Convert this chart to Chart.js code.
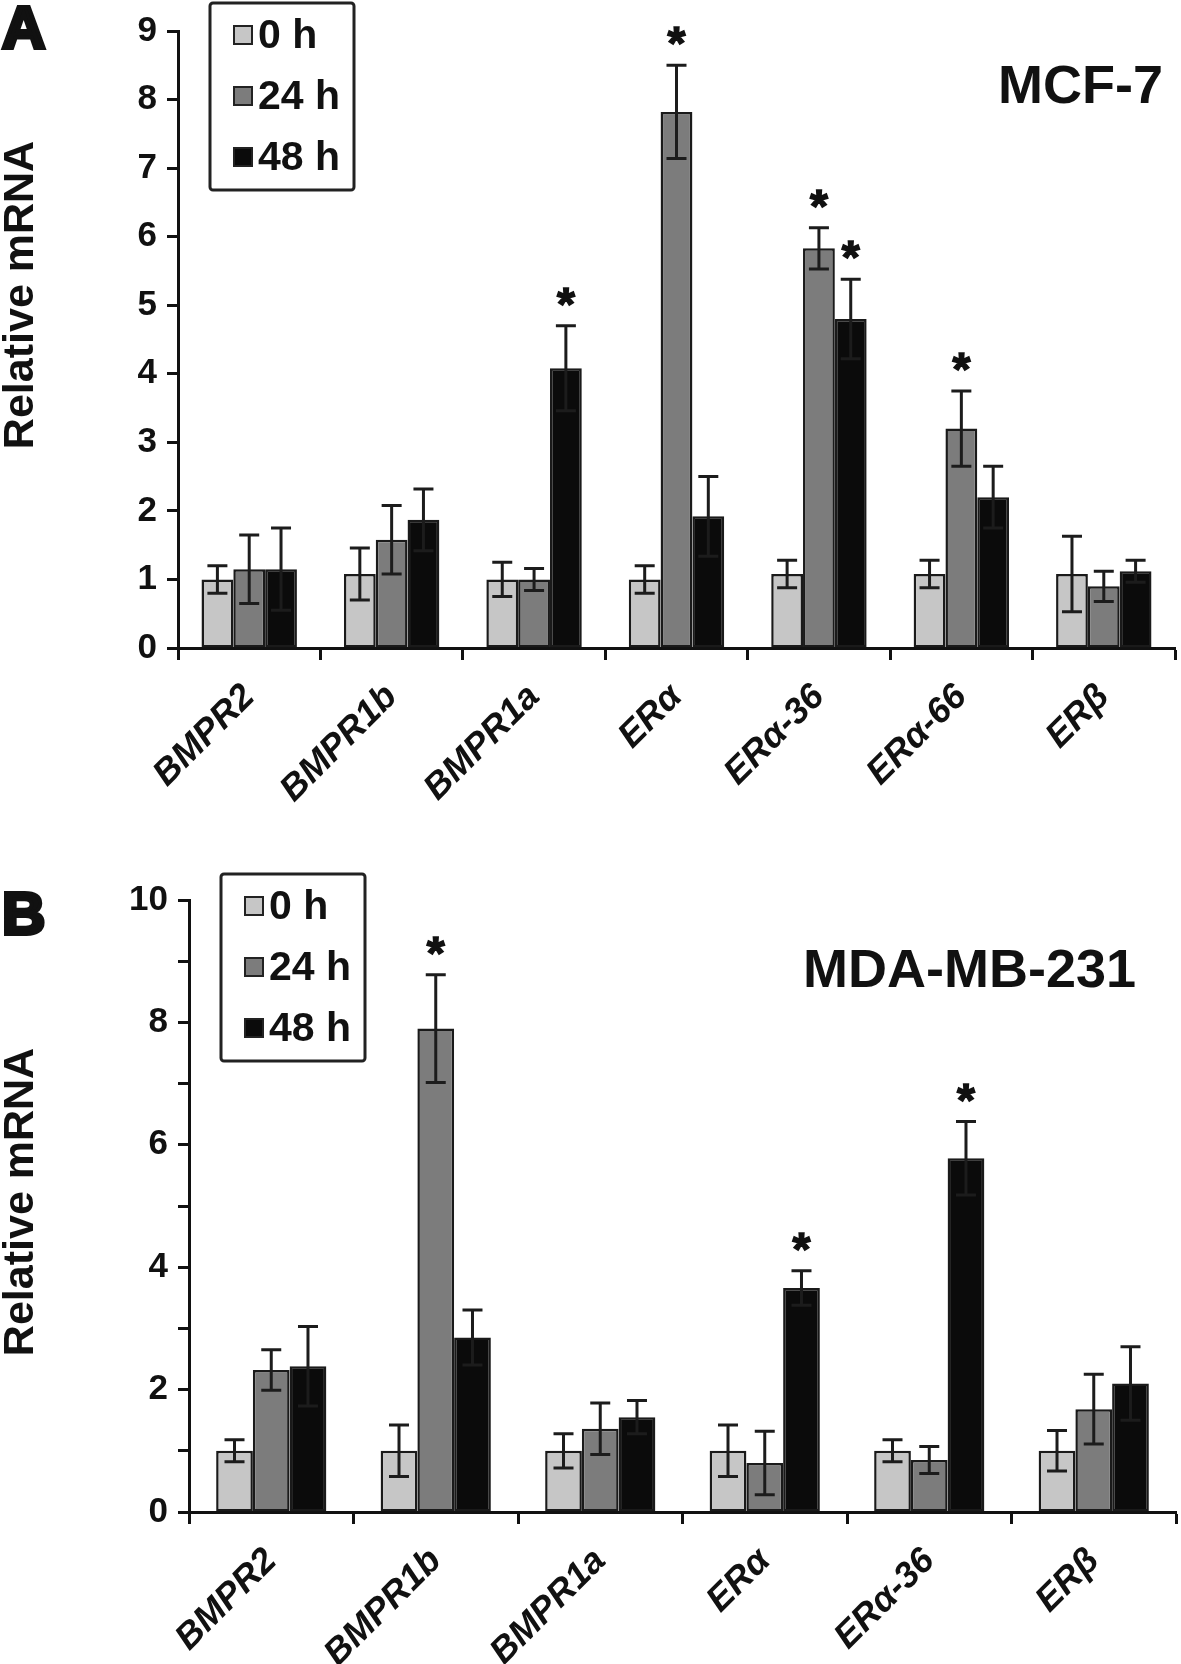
<!DOCTYPE html>
<html>
<head>
<meta charset="utf-8">
<script src="https://cdn.jsdelivr.net/npm/chart.js@4.4.1/dist/chart.umd.min.js"></script>
<style>
  html, body { margin: 0; padding: 0; background: #fff; }
  #wrap { position: relative; width: 1181px; height: 1664px; }
  .panel { position: absolute; left: 0; width: 1181px; }
  #pa { top: 0; height: 820px; }
  #pb { top: 820px; height: 844px; }
</style>
</head>
<body>
<div id="wrap">
  <div class="panel" id="pa"><canvas id="chartA"></canvas></div>
  <div class="panel" id="pb"><canvas id="chartB"></canvas></div>
</div>
<script>
// ---- data, panel A (MCF-7)
const genesA = ['BMPR2', 'BMPR1b', 'BMPR1a', 'ERα', 'ERα-36', 'ERα-66', 'ERβ'];
const mcf0h     = [1.00, 1.08, 1.00, 1.00, 1.08, 1.08, 1.08];
const mcf0hErr  = [0.20, 0.38, 0.25, 0.20, 0.20, 0.20, 0.55];
const mcf24h    = [1.15, 1.58, 1.00, 7.82, 5.83, 3.20, 0.90];
const mcf24hErr = [0.50, 0.50, 0.16, 0.68, 0.30, 0.55, 0.22];
const mcf48h    = [1.15, 1.87, 4.08, 1.92, 4.80, 2.20, 1.12];
const mcf48hErr = [0.60, 0.45, 0.62, 0.58, 0.58, 0.45, 0.16];
const mcfStar0  = [0, 0, 0, 0, 0, 0, 0];
const mcfStar24 = [0, 0, 0, 1, 1, 1, 0];
const mcfStar48 = [0, 0, 1, 0, 1, 0, 0];
const yTicksA   = [0, 1, 2, 3, 4, 5, 6, 7, 8, 9];

// ---- data, panel B (MDA-MB-231)
const genesB = ['BMPR2', 'BMPR1b', 'BMPR1a', 'ERα', 'ERα-36', 'ERβ'];
const mda0h     = [1.00, 1.00, 1.00, 1.00, 1.00, 1.00];
const mda0hErr  = [0.18, 0.42, 0.28, 0.42, 0.18, 0.33];
const mda24h    = [2.32, 7.90, 1.36, 0.80, 0.85, 1.68];
const mda24hErr = [0.33, 0.88, 0.42, 0.52, 0.22, 0.57];
const mda48h    = [2.38, 2.85, 1.55, 3.66, 5.78, 2.10];
const mda48hErr = [0.65, 0.45, 0.27, 0.28, 0.60, 0.60];
const mdaStar0  = [0, 0, 0, 0, 0, 0];
const mdaStar24 = [0, 1, 0, 0, 0, 0];
const mdaStar48 = [0, 0, 0, 1, 1, 0];
const yTicksB   = [0, 1, 2, 3, 4, 5, 6, 7, 8, 9, 10];
const yLabelsB  = [0, 2, 4, 6, 8, 10];

const seriesNames = ['0 h', '24 h', '48 h'];

const FONT = '"Liberation Sans", Arial, sans-serif';
const INK = '#111';
const fills = ['#c6c6c6', '#7c7c7c', '#0b0b0b'];

// error bars + significance stars
const errorBars = {
  id: 'errorBars',
  afterDatasetsDraw(chart) {
    const ctx = chart.ctx, y = chart.scales.y;
    ctx.save();
    chart.data.datasets.forEach((ds, i) => {
      chart.getDatasetMeta(i).data.forEach((bar, j) => {
        const v = ds.data[j], e = ds.errors[j];
        const top = y.getPixelForValue(v + e), bot = y.getPixelForValue(v - e);
        ctx.strokeStyle = '#1c1c1c';
        ctx.lineWidth = 3;
        ctx.beginPath();
        ctx.moveTo(bar.x, top); ctx.lineTo(bar.x, bot);
        ctx.moveTo(bar.x - 10, top); ctx.lineTo(bar.x + 10, top);
        ctx.moveTo(bar.x - 10, bot); ctx.lineTo(bar.x + 10, bot);
        ctx.stroke();
        if (ds.stars[j]) {
          ctx.fillStyle = INK;
          ctx.strokeStyle = INK;
          ctx.lineWidth = 1.5;
          ctx.font = 'bold 46px ' + FONT;
          ctx.textAlign = 'center';
          ctx.textBaseline = 'alphabetic';
          ctx.fillText('*', bar.x, top - 6);
          ctx.strokeText('*', bar.x, top - 6);
        }
      });
    });
    ctx.restore();
  }
};

// panel letter, cell line name, y title, boxed legend
const decor = {
  id: 'decor',
  afterDraw(chart, args, o) {
    const ctx = chart.ctx, ca = chart.chartArea;
    ctx.save();
    ctx.fillStyle = INK;
    ctx.strokeStyle = INK;

    ctx.font = 'bold 60px ' + FONT;
    ctx.textAlign = 'left';
    ctx.textBaseline = 'alphabetic';
    ctx.lineWidth = 4;
    ctx.fillText(o.letter, 2, o.letterY);
    ctx.strokeText(o.letter, 2, o.letterY);

    ctx.font = 'bold 54px ' + FONT;
    ctx.textAlign = 'right';
    ctx.fillText(o.title, o.titleX, o.titleY);

    ctx.save();
    ctx.translate(21, o.yTitleY);
    ctx.rotate(-Math.PI / 2);
    ctx.font = 'bold 43px ' + FONT;
    ctx.textAlign = 'center';
    ctx.textBaseline = 'middle';
    ctx.fillText('Relative mRNA', 0, 0);
    ctx.restore();

    const bx = ca.left + 32, by = o.legendY, bw = 144, bh = 187;
    ctx.lineWidth = 3;
    ctx.strokeStyle = '#222';
    ctx.beginPath();
    ctx.roundRect(bx, by, bw, bh, 3);
    ctx.stroke();
    ctx.font = 'bold 41px ' + FONT;
    ctx.textAlign = 'left';
    ctx.textBaseline = 'middle';
    chart.data.datasets.forEach((ds, i) => {
      const cy = by + 32 + i * 61;
      ctx.fillStyle = ds.backgroundColor;
      ctx.fillRect(bx + 24, cy - 9, 18, 18);
      ctx.lineWidth = 2;
      ctx.strokeStyle = '#222';
      ctx.strokeRect(bx + 24, cy - 9, 18, 18);
      ctx.fillStyle = INK;
      ctx.fillText(ds.label, bx + 48, cy + 2);
    });
    ctx.restore();
  }
};

function makeDatasets(values, errs, stars) {
  return values.map((d, i) => ({
    label: seriesNames[i],
    data: d,
    errors: errs[i],
    stars: stars[i],
    backgroundColor: fills[i],
    borderColor: '#1a1a1a',
    borderWidth: 2.5,
    borderSkipped: false,
    categoryPercentage: 0.67,
    barPercentage: 1.0
  }));
}

function makeChart(id, labels, datasets, yTicks, yLabels, yMax, sizes, decorOpts) {
  return new Chart(document.getElementById(id), {
    type: 'bar',
    data: { labels: labels, datasets: datasets },
    options: {
      responsive: true,
      maintainAspectRatio: false,
      animation: false,
      layout: { padding: { left: 0, right: sizes.right, top: sizes.top, bottom: 0 } },
      plugins: {
        legend: { display: false },
        tooltip: { enabled: false },
        decor: decorOpts
      },
      scales: {
        x: {
          afterFit: s => { s.height = sizes.xHeight; },
          grid: { display: true, drawOnChartArea: false, drawTicks: true, tickLength: 12, tickWidth: 3, tickColor: INK, offset: true },
          border: { display: true, width: 3, color: INK },
          ticks: {
            minRotation: 45, maxRotation: 45, padding: 16, color: INK,
            font: { family: FONT, size: 36, weight: 'bold', style: 'italic' }
          }
        },
        y: {
          min: 0, max: yMax,
          afterFit: s => { s.width = sizes.yWidth; },
          afterBuildTicks: s => { s.ticks = yTicks.map(v => ({ value: v })); },
          grid: { display: true, drawOnChartArea: false, drawTicks: true, tickLength: 11, tickWidth: 3, tickColor: INK },
          border: { display: true, width: 3, color: INK },
          ticks: {
            padding: 10, color: INK,
            font: { family: FONT, size: 35, weight: 'bold' },
            callback: v => (yLabels.includes(v) ? String(v) : '')
          }
        }
      }
    },
    plugins: [errorBars, decor]
  });
}

makeChart('chartA', genesA,
  makeDatasets([mcf0h, mcf24h, mcf48h], [mcf0hErr, mcf24hErr, mcf48hErr], [mcfStar0, mcfStar24, mcfStar48]),
  yTicksA, yTicksA, 9,
  { top: 23, right: 6, xHeight: 172, yWidth: 178 },
  { letter: 'A', letterY: 48, title: 'MCF-7', titleX: 1163, titleY: 103, yTitleY: 295, legendY: 3 });

makeChart('chartB', genesB,
  makeDatasets([mda0h, mda24h, mda48h], [mda0hErr, mda24hErr, mda48hErr], [mdaStar0, mdaStar24, mdaStar48]),
  yTicksB, yLabelsB, 10,
  { top: 80, right: 5, xHeight: 152, yWidth: 189 },
  { letter: 'B', letterY: 114, title: 'MDA-MB-231', titleX: 1136, titleY: 167, yTitleY: 382, legendY: 54 });
</script>
</body>
</html>
